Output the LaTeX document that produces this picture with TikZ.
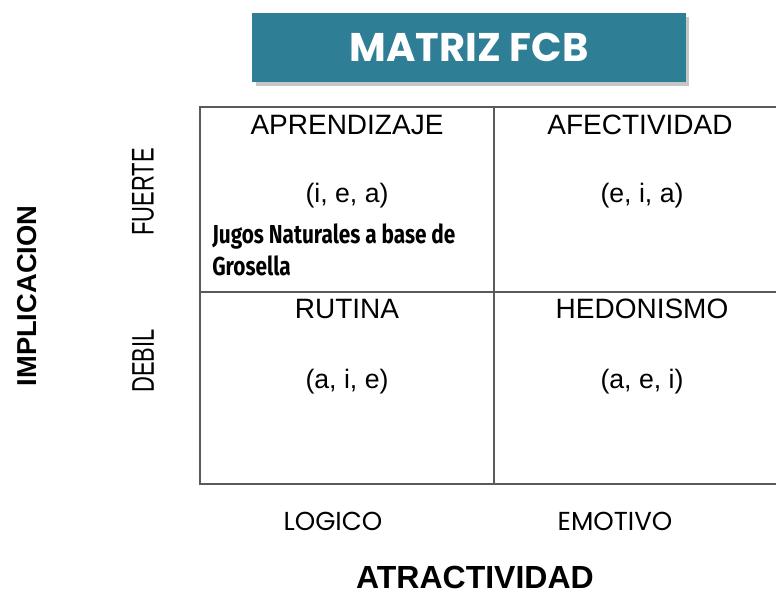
\documentclass[tikz,border=0pt]{standalone}
\usepackage{fontspec}
\setmainfont{Liberation Sans}
\newfontfamily\gothicfont{Poppins}
\newfontfamily\narrowfont[FakeStretch=0.7]{Liberation Sans}
\newfontfamily\impactfont[FakeStretch=0.8]{Fira Sans}
\definecolor{fcbteal}{HTML}{2E7E96}
\definecolor{gridgray}{HTML}{5A5A5A}

\begin{document}
\begin{tikzpicture}[x=0.75pt,y=-0.75pt,
    quadrant/.style={font=\fontsize{21}{25}\selectfont},
    vowels/.style={font=\fontsize{20}{24}\selectfont},
    axislabel/.style={font=\fontsize{20.5}{24}\selectfont\bfseries},
    level/.style={font=\fontsize{23.5}{28}\selectfont\narrowfont,rotate=90},
    kind/.style={font=\fontsize{19.5}{23}\selectfont\gothicfont}]
      \useasboundingbox (0,0) rectangle (776,595);
      % title box with shadow
      \fill[gray!45] (256,17) rectangle (689,86);
      \fill[fcbteal] (252,13) rectangle (686,82);
      \node(title) at (469,47) {\fontsize{30}{34}\selectfont\gothicfont\bfseries\color{white}MATRIZ FCB};
      % the grid
      \draw[gridgray,line width=1.4pt] (776,107) -- (200,107) -- (200,484) -- (776,484);
      \draw[gridgray,line width=1.4pt] (200,292) -- (776,292);
      \draw[gridgray,line width=1.4pt] (494,107) -- (494,484);
      % quadrants
      \node[quadrant](aprendizaje) at (347,125) {APRENDIZAJE};
      \node[quadrant](afectividad) at (640,125) {AFECTIVIDAD};
      \node[quadrant](rutina) at (347,309) {RUTINA};
      \node[quadrant](hedonismo) at (642,309) {HEDONISMO};
      \node[vowels](iea) at (347,196) {(i, e, a)};
      \node[vowels](eia) at (642,196) {(e, i, a)};
      \node[vowels](aie) at (347,382) {(a, i, e)};
      \node[vowels](aei) at (642,382) {(a, e, i)};
      \node[anchor=west,align=left,inner sep=0pt,
        font=\fontsize{19.5}{24}\selectfont\impactfont\bfseries](jugos) at (212,250) {Jugos Naturales a base de\\Grosella};
      % axes
      \node[axislabel,rotate=90](implicacion) at (27,296) {IMPLICACION};
      \node[level](fuerte) at (143,192) {FUERTE};
      \node[level](debil) at (143,361) {DEBIL};
      \node[kind](logico) at (333,521) {LOGICO};
      \node[kind](emotivo) at (615,521) {EMOTIVO};
      \node[font=\fontsize{24}{28}\selectfont\bfseries](atractividad) at (475,577) {ATRACTIVIDAD};
\end{tikzpicture}
\end{document}
